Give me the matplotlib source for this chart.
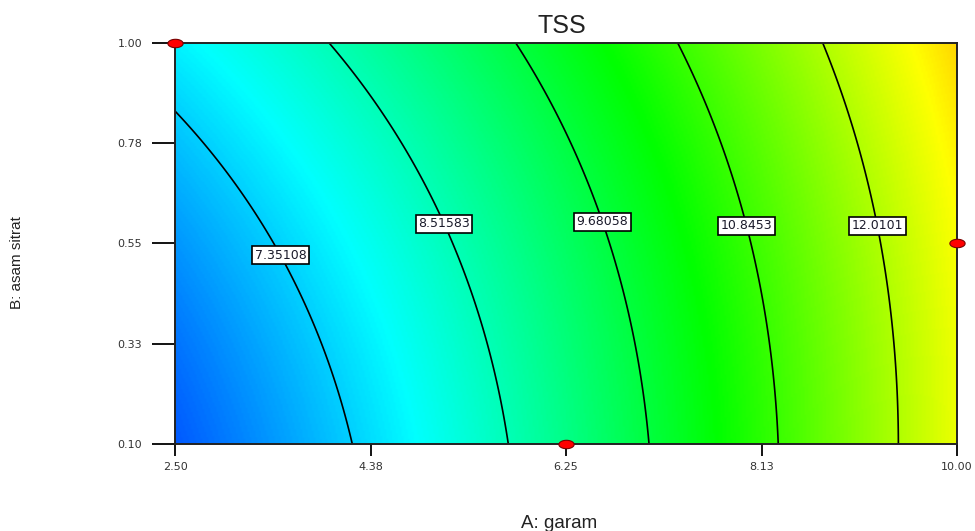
import numpy as np
import matplotlib
matplotlib.use("Agg")
import matplotlib.pyplot as plt
from matplotlib.colors import LinearSegmentedColormap
from matplotlib.path import Path

plt.rcParams['font.family'] = ['Liberation Sans', 'DejaVu Sans']

# contour levels of the TSS response
levels = [7.35108, 8.51583, 9.68058, 10.8453, 12.0101]

# points: (A: garam, B: asam sitrat)
trace_a = [
    [2.51, 2.864, 3.286, 3.507, 3.715, 4.20],
    [3.977, 4.466, 4.658, 5.013, 5.108, 5.425, 5.588, 5.694],
    [5.78, 6.192, 6.557, 6.633, 6.768, 6.892, 6.979, 7.056],
    [7.324, 7.631, 7.967, 8.11, 8.235, 8.283],
    [8.715, 8.983, 9.233, 9.33, 9.415, 9.434],
]
trace_b = [
    [0.841, 0.760, 0.603, 0.522, 0.423, 0.10],
    [1.00, 0.856, 0.782, 0.641, 0.580, 0.394, 0.244, 0.10],
    [1.00, 0.805, 0.625, 0.580, 0.468, 0.333, 0.244, 0.10],
    [1.00, 0.827, 0.603, 0.468, 0.244, 0.10],
    [1.00, 0.827, 0.603, 0.468, 0.244, 0.10],
]

# where each contour is labelled
label_a = [3.50, 5.11, 6.62, 7.98, 9.23]
label_b = [0.522, 0.598, 0.600, 0.590, 0.590]

# design points
design_a = [2.50, 6.25, 10.00]
design_b = [1.00, 0.10, 0.55]

x_ticks = [2.50, 4.375, 6.25, 8.125, 10.00]
x_tick_labels = ['2.50', '4.38', '6.25', '8.13', '10.00']
y_ticks = [0.10, 0.325, 0.55, 0.775, 1.00]
y_tick_labels = ['0.10', '0.33', '0.55', '0.78', '1.00']


def terms(a, b):
    a = np.asarray(a, dtype=float)
    b = np.asarray(b, dtype=float)
    return np.stack([np.ones_like(a), a, b, a * b, a ** 2, b ** 2], axis=-1)


# quadratic response surface through the traced contour points
pa = np.concatenate([np.array(v) for v in trace_a])
pb = np.concatenate([np.array(v) for v in trace_b])
pz = np.concatenate([np.full(len(v), lv) for v, lv in zip(trace_a, levels)])
coef, *_ = np.linalg.lstsq(terms(pa, pb), pz, rcond=None)

ga, gb = np.meshgrid(np.linspace(2.5, 10, 400), np.linspace(0.1, 1.0, 300))
gz = terms(ga, gb) @ coef

cmap = LinearSegmentedColormap.from_list(
    'de', ['#0000ff', '#00ffff', '#00ff00', '#ffff00', '#ff0000'])

fig = plt.figure(figsize=(9.75, 5.31), dpi=100)
ax = fig.add_axes([175 / 975, 87 / 531, 782 / 975, 401 / 531])

ax.imshow(gz, origin='lower', extent=[2.5, 10, 0.1, 1.0], aspect='auto',
          cmap=cmap, vmin=5.3, vmax=15.3, interpolation='bilinear')
cs = ax.contour(ga, gb, gz, levels=levels, colors='black', linewidths=1.2)
texts = ax.clabel(cs, levels, inline=False, fontsize=9, colors='#1a1a2a',
                  manual=list(zip(label_a, label_b)),
                  fmt={lv: f'{lv:g}' for lv in levels})
for t in texts:
    t.set_rotation(0)
    t.set_family('DejaVu Sans')
    t.set_bbox(dict(boxstyle='square,pad=0.2', fc='white', ec='black', lw=1.2))
    t.set_zorder(5)

ell = np.linspace(0, 2 * np.pi, 40)
ellipse = Path(np.c_[np.cos(ell), 0.55 * np.sin(ell)])
ax.plot(design_a, design_b, ls='none', marker=ellipse, ms=11, mfc='#ff0000',
        mec='#7a0000', mew=0.8, clip_on=False, zorder=6)

ax.set_xlim(2.5, 10)
ax.set_ylim(0.1, 1.0)
ax.set_xticks(x_ticks)
ax.set_xticklabels(x_tick_labels)
ax.set_yticks(y_ticks)
ax.set_yticklabels(y_tick_labels)
ax.tick_params(axis='x', length=8.6, width=1.3, pad=4, labelsize=8, labelcolor='#333333')
ax.tick_params(axis='y', length=16.5, width=1.3, pad=7, labelsize=8, labelcolor='#333333')
for lab in ax.get_xticklabels() + ax.get_yticklabels():
    lab.set_family('DejaVu Sans')
for s in ax.spines.values():
    s.set_linewidth(1.4)
    s.set_color('#222222')

fig.text(562 / 975, 1 - 26 / 531, 'TSS', ha='center', va='center', fontsize=18, color='#222222')
fig.text(559 / 975, 1 - 528 / 531, 'A: garam', ha='center', va='baseline', fontsize=13.5,
         color='#222222')
fig.text(17 / 975, 1 - 263 / 531, 'B: asam sitrat', ha='center', va='center', rotation=90,
         fontsize=11, color='#222222')

fig.savefig('out.png', dpi=100)
